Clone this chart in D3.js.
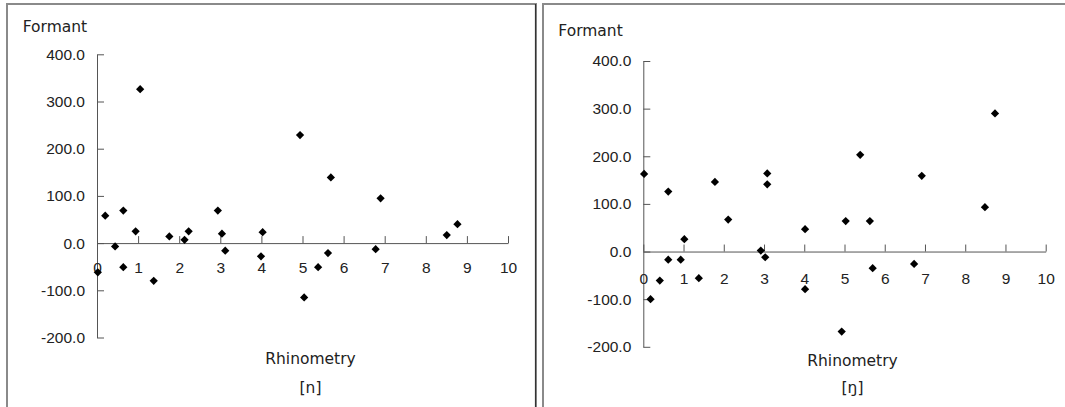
<!DOCTYPE html>
<html>
<head>
<meta charset="utf-8">
<script src="https://cdn.jsdelivr.net/npm/d3@7"></script>
<style>
  body { margin: 0; background: #fff; }
  svg { display: block; font-family: "DejaVu Sans", sans-serif; }
  .axis path, .axis line { stroke: #555; }
  .axis text { font-size: 15.5px; fill: #222; }
  .lbl { font-size: 15.5px; fill: #222; }
</style>
</head>
<body>
<svg id="chart"></svg>
<script>
let width = 1065;
let height = 407;

// [n] 左图
let nX = [1.05, 4.94, 5.69, 6.90, 0.20, 0.64, 0.94, 0.44, 0.64, 0.02, 1.38, 1.76, 2.13,
          2.23, 2.94, 3.04, 3.12, 4.03, 3.99, 5.04, 5.38, 5.62, 6.78, 8.51, 8.77];
let nY = [326, 229, 139, 95, 58, 69, 25, -7, -51, -62, -80, 14, 7,
          25, 69, 20, -16, 23, -28, -115, -51, -21, -13, 17, 40];

// [ŋ] 右图
let ngX = [0.02, 0.62, 1.78, 3.08, 3.08, 8.74, 5.39, 6.92, 8.49, 2.11, 1.02, 0.62, 0.93,
           0.41, 0.18, 1.38, 2.92, 3.03, 4.02, 5.03, 5.63, 5.70, 6.73, 4.02, 4.93];
let ngY = [163, 126, 146, 164, 141, 290, 203, 159, 93, 67, 26, -17, -17,
           -61, -100, -56, 2, -12, 47, 64, 64, -35, -26, -79, -168];

let xTicks = [0, 1, 2, 3, 4, 5, 6, 7, 8, 9, 10];
let yTicks = [-200, -100, 0, 100, 200, 300, 400];

let panels = [
  {xs: nX, ys: nY, label: '[n]', box: [7, 4, 529], xr: [97, 508], yr: [337.5, 54.3],
   xPad: 19, titlePos: [22.7, 32.3], rhinoY: 364},
  {xs: ngX, ys: ngY, label: '[ŋ]', box: [543, 4, 530], xr: [643.3, 1045.7], yr: [346.8, 61],
   xPad: 21, titlePos: [558.3, 35.7], rhinoY: 365.7}
];

let svg = d3.select('#chart').attr('width', width).attr('height', height);

let yFmt = v => d3.format('.1f')(v).replace('\u2212', '-');

function draw_panel(p) {
    let g = svg.append('g');
    // 外框
    g.append('rect')
        .attr('x', p.box[0]).attr('y', p.box[1])
        .attr('width', p.box[2]).attr('height', height + 10)
        .attr('fill', 'none')
        .attr('stroke', '#8a8a8a')
        .attr('stroke-width', 2);

    let x = d3.scaleLinear().domain([0, 10]).range(p.xr);
    let y = d3.scaleLinear().domain([-200, 400]).range(p.yr);

    // y轴
    g.append('g')
        .attr('class', 'axis')
        .attr('transform', `translate(${x(0)},0)`)
        .call(d3.axisLeft(y).tickValues(yTicks).tickFormat(yFmt)
            .tickSizeInner(-7).tickSizeOuter(0).tickPadding(12))
        .call(a => a.selectAll('text').attr('x', -12));

    // x轴 (刻度向上)
    g.append('g')
        .attr('class', 'axis')
        .attr('transform', `translate(0,${y(0)})`)
        .call(d3.axisBottom(x).tickValues(xTicks).tickFormat(d3.format('d'))
            .tickSizeInner(-7).tickSizeOuter(0).tickPadding(p.xPad));

    g.append('text').attr('class', 'lbl')
        .attr('x', p.titlePos[0]).attr('y', p.titlePos[1])
        .text('Formant');

    let cx = (x(0) + x(10)) / 2 + 8;
    g.append('text').attr('class', 'lbl')
        .attr('x', cx).attr('y', p.rhinoY)
        .attr('text-anchor', 'middle')
        .text('Rhinometry');
    g.append('text').attr('class', 'lbl')
        .attr('x', cx).attr('y', 392.7)
        .attr('text-anchor', 'middle')
        .text(p.label);

    // 散点 (菱形)
    let pts = p.xs.map((v, i) => ({x: v, y: p.ys[i]}));
    g.append('g')
        .selectAll('path')
        .data(pts)
        .join('path')
        .attr('d', d3.symbol(d3.symbolSquare, 34))
        .attr('transform', d => `translate(${x(d.x)},${y(d.y)}) rotate(45)`)
        .attr('fill', '#000');
}

panels.forEach(draw_panel);

// 左图右边框较深
svg.append('line')
    .attr('x1', 535.5).attr('x2', 535.5)
    .attr('y1', 4).attr('y2', height)
    .attr('stroke', '#333').attr('stroke-width', 1.2);
</script>
</body>
</html>
